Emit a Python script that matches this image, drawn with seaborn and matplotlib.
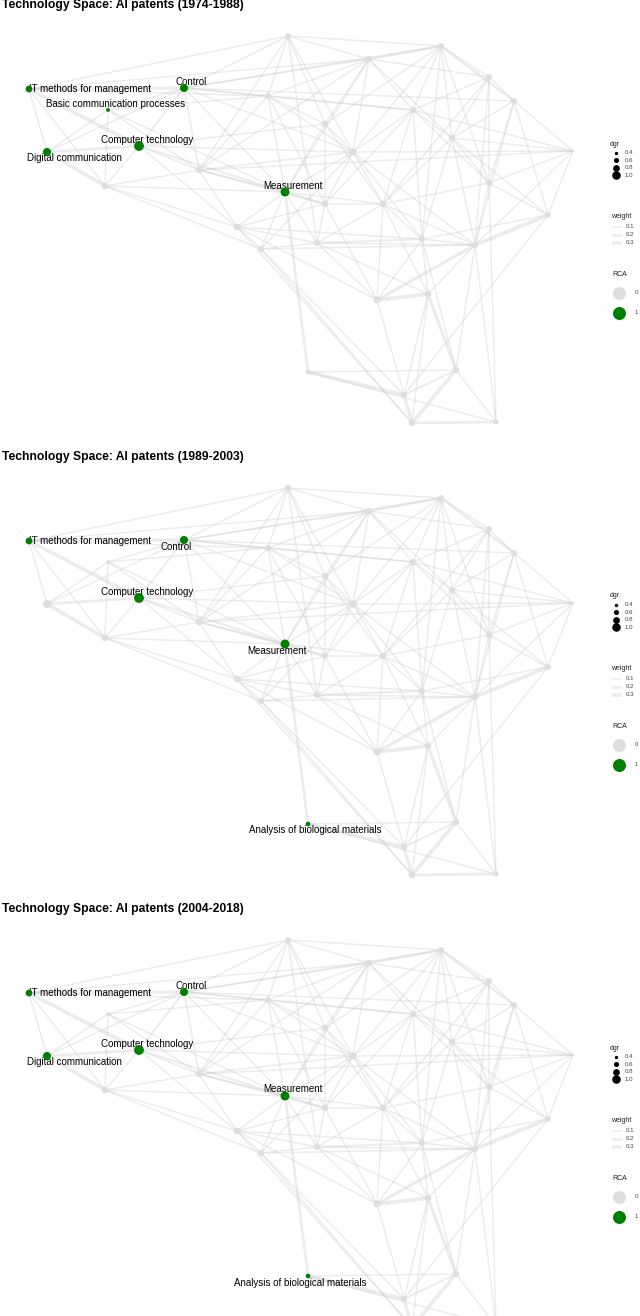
import numpy as np
import pandas as pd
import matplotlib
matplotlib.use("Agg")
import matplotlib.pyplot as plt
import seaborn as sns
from matplotlib.collections import LineCollection

# ---------------- data ----------------
titles = ["Technology Space: AI patents (1974-1988)",
          "Technology Space: AI patents (1989-2003)",
          "Technology Space: AI patents (2004-2018)"]

node_names = ["IT methods for management", "Control", "Basic communication processes",
              "Computer technology", "Digital communication", "Measurement",
              "n06", "n07", "n08", "n09", "n10", "n11", "n12", "n13", "n14", "n15",
              "n16", "n17", "n18", "n19", "n20", "n21", "n22", "n23", "n24", "n25",
              "n26", "n27", "n28", "Analysis of biological materials", "n30", "n31",
              "n32", "n33", "n34"]
node_x = [29, 184, 108, 139, 47, 285, 288, 268, 105, 199, 369, 441, 489, 514, 413, 325,
          452, 353, 489, 325, 383, 548, 237, 261, 317, 422, 475, 377, 428, 308, 456, 404,
          412, 496, 573]
node_y = [89, 88, 110, 146, 152, 192, 36, 96, 186, 170, 59, 46, 77, 101, 110, 124,
          138, 152, 183, 204, 204, 215, 227, 249, 243, 239, 245, 300, 294, 372, 370, 395,
          423, 422, 151]
dgr = [0.8, 0.95, 0.45, 1.15, 0.95, 1.05, 0.7, 0.75, 0.75, 0.8, 0.75, 0.7, 0.7, 0.7, 0.75, 0.75,
       0.7, 0.85, 0.75, 0.7, 0.75, 0.65, 0.8, 0.7, 0.7, 0.75, 0.75, 0.8, 0.75, 0.55, 0.75, 0.7,
       0.75, 0.6, 0.3]

rca_1974 = [1, 1, 1, 1, 1, 1] + [0] * 29
rca_1989 = [1, 1, 0, 1, 0, 1] + [0] * 23 + [1] + [0] * 5
rca_2004 = [1, 1, 0, 1, 1, 1] + [0] * 23 + [1] + [0] * 5
rca_periods = [rca_1974, rca_1989, rca_2004]

edge_src = [0, 0, 0, 0, 0, 0, 1, 1, 1, 1, 1, 1, 1, 1, 1, 2, 2, 2, 2, 3, 3, 3, 3, 4,
            5, 5, 5, 5, 5, 5, 5, 5, 5, 5, 6, 6, 6, 6, 6, 7, 7, 7, 7, 7, 8, 8, 8,
            9, 9, 9, 10, 10, 10, 10, 10, 11, 11, 11, 11, 11, 11, 12, 12, 12, 12,
            13, 13, 13, 13, 14, 14, 14, 14, 14, 14, 15, 15, 15, 16, 16, 16, 16,
            17, 17, 17, 17, 18, 18, 18, 18, 18, 19, 19, 19, 19, 20, 20, 20, 20,
            21, 21, 21, 21, 22, 22, 22, 22, 23, 23, 23, 23, 24, 24, 24, 25, 25, 25, 25,
            26, 26, 26, 26, 27, 27, 28, 28, 28, 29, 29, 29, 30, 30, 30, 31, 32,
            6, 6, 1, 1, 1, 9, 7, 10, 10, 15, 3, 3, 2, 8, 12, 12, 16, 16, 17, 17,
            13, 14, 20, 22, 24, 11, 26, 0, 3, 9]
edge_dst = [1, 3, 4, 8, 6, 7, 3, 6, 7, 9, 10, 14, 5, 2, 4, 4, 8, 9, 5, 4, 8, 9, 5, 8,
            7, 9, 15, 17, 19, 20, 22, 23, 24, 29, 7, 10, 11, 15, 17, 10, 14, 15, 17, 9, 9, 5, 22,
            22, 34, 17, 11, 12, 14, 15, 16, 12, 13, 14, 16, 17, 18, 13, 16, 18, 14,
            16, 21, 34, 18, 16, 17, 18, 20, 19, 34, 17, 19, 20, 18, 20, 21, 34,
            19, 20, 34, 25, 21, 20, 26, 33, 34, 20, 24, 22, 27, 25, 27, 28, 24,
            26, 31, 25, 34, 23, 24, 25, 32, 24, 26, 31, 32, 25, 26, 27, 26, 27, 28, 30,
            27, 28, 30, 34, 28, 31, 30, 32, 31, 30, 31, 33, 31, 32, 33, 32, 33,
            9, 24, 11, 13, 17, 10, 19, 17, 5, 11, 17, 15, 7, 23, 20, 26, 25, 26, 26, 23,
            26, 25, 26, 27, 28, 25, 33, 10, 22, 19]
edge_weight = [0.25, 0.3, 0.1, 0.1, 0.1, 0.1, 0.15, 0.1, 0.1, 0.1, 0.1, 0.1, 0.1, 0.1, 0.1,
               0.1, 0.1, 0.1, 0.1, 0.2, 0.1, 0.1, 0.15, 0.3,
               0.1, 0.15, 0.1, 0.1, 0.2, 0.1, 0.1, 0.1, 0.1, 0.2, 0.1, 0.1, 0.1, 0.1, 0.1,
               0.1, 0.1, 0.1, 0.1, 0.1, 0.1, 0.1, 0.1,
               0.1, 0.1, 0.1, 0.2, 0.1, 0.1, 0.1, 0.1, 0.1, 0.2, 0.1, 0.1, 0.1, 0.1,
               0.1, 0.1, 0.1, 0.1,
               0.1, 0.1, 0.1, 0.1, 0.1, 0.1, 0.1, 0.1, 0.1, 0.1, 0.1, 0.1, 0.1,
               0.1, 0.1, 0.1, 0.1,
               0.1, 0.1, 0.1, 0.1, 0.1, 0.1, 0.1, 0.1, 0.1, 0.1, 0.1, 0.1, 0.1,
               0.1, 0.1, 0.1, 0.1,
               0.3, 0.1, 0.1, 0.1, 0.1, 0.1, 0.1, 0.1, 0.1, 0.1, 0.1, 0.1,
               0.15, 0.1, 0.1, 0.1, 0.1, 0.1, 0.1,
               0.25, 0.1, 0.1, 0.1, 0.3, 0.1, 0.25, 0.1, 0.1, 0.1, 0.3, 0.1,
               0.15, 0.3, 0.1, 0.25, 0.2,
               0.1, 0.1, 0.1, 0.1, 0.1, 0.1, 0.1, 0.1, 0.1, 0.1, 0.1, 0.1, 0.1, 0.1,
               0.1, 0.1, 0.1, 0.1, 0.1, 0.1, 0.1, 0.1, 0.1, 0.1, 0.1, 0.1, 0.1, 0.1,
               0.1, 0.1]

legend_dgr = [0.4, 0.6, 0.8, 1.0]
legend_weight = [0.1, 0.2, 0.3]
legend_rca = [0, 1]

# label nudges (px) per period, keyed by node index
label_nudge = [
    {0: (61, 0), 1: (7, -6), 2: (8, -6), 3: (8, -6), 4: (27, 6), 5: (8, -6)},
    {0: (61, 0), 1: (-8, 7), 3: (8, -6), 5: (-8, 7), 29: (7, 6)},
    {0: (61, 0), 1: (7, -6), 3: (8, -6), 4: (27, 6), 5: (8, -7), 29: (-8, 7)},
]

# ---------------- style ----------------
sns.set_theme(style="white")
plt.rcParams["font.family"] = ["Liberation Sans", "DejaVu Sans"]

W, H, PANEL_H = 640, 1316, 452
GREEN = "#008000"
GREY_NODE = "#dedede"
EDGE_COL = "#cacaca"
EDGE_ALPHA = 0.34


def diam_px(v):
    return 8.5 * v


def area_pt(v):
    return (diam_px(np.asarray(v)) * 0.72) ** 2


def edge_lw(w):
    return (0.4 + w * 11) * 0.72


fig = plt.figure(figsize=(W / 100, H / 100), dpi=100)

for k in range(3):
    top = k * PANEL_H
    ax = fig.add_axes([0, (H - top - PANEL_H) / H, 1, PANEL_H / H])

    # edges
    segs = [[(node_x[s], node_y[s]), (node_x[d], node_y[d])] for s, d in zip(edge_src, edge_dst)]
    lc = LineCollection(segs, colors=EDGE_COL, alpha=EDGE_ALPHA,
                        linewidths=[edge_lw(w) for w in edge_weight],
                        capstyle="round", zorder=1)
    ax.add_collection(lc)

    df = pd.DataFrame({"name": node_names, "x": node_x, "y": node_y,
                       "dgr": dgr, "RCA": rca_periods[k]})
    df["area"] = area_pt(df["dgr"])
    df = df.sort_values("RCA", kind="stable")
    amin, amax = df["area"].min(), df["area"].max()
    sns.scatterplot(data=df, x="x", y="y", hue="RCA", palette={0: GREY_NODE, 1: GREEN},
                    size="area", sizes=(amin, amax), size_norm=(amin, amax),
                    legend=False, linewidth=0, ax=ax, zorder=3)

    # labels
    for idx, (dx, dy) in label_nudge[k].items():
        ax.text(node_x[idx] + dx, node_y[idx] + dy, node_names[idx],
                ha="center", va="center", fontsize=7.0, color="black", zorder=2)

    # title
    ax.text(2, 5, titles[k], ha="left", va="center", fontsize=8.7,
            fontweight="bold", color="black")

    # legend: dgr
    lx = 610
    ax.text(lx, 144, "dgr", fontsize=5.0, ha="left", va="center", color="#222222")
    for i, v in enumerate(legend_dgr):
        yy = 153 + i * 7.4
        ax.scatter([lx + 6], [yy], s=float(area_pt(v)), color="black", linewidth=0, zorder=4)
        ax.text(lx + 15, yy, f"{v:.1f}", fontsize=4.4, ha="left", va="center", color="#444444")
    # legend: weight
    ax.text(lx + 1, 216, "weight", fontsize=5.0, ha="left", va="center", color="#222222")
    for i, w in enumerate(legend_weight):
        yy = 227 + i * 8
        ax.plot([lx + 2, lx + 12], [yy, yy], color=EDGE_COL, alpha=EDGE_ALPHA,
                linewidth=edge_lw(w), solid_capstyle="butt")
        ax.text(lx + 16, yy, f"{w:.1f}", fontsize=4.4, ha="left", va="center", color="#444444")
    # legend: RCA
    ax.text(lx + 2, 275, "RCA", fontsize=5.0, ha="left", va="center", color="#222222")
    for i, r in enumerate(legend_rca):
        yy = 293 + i * 20
        ax.scatter([lx + 9], [yy], s=(13 * 0.72) ** 2, color=GREEN if r else GREY_NODE,
                   linewidth=0, zorder=4)
        ax.text(lx + 25, yy, str(r), fontsize=4.4, ha="left", va="center", color="#444444")

    ax.set_xlim(0, W)
    ax.set_ylim(PANEL_H, 0)
    ax.axis("off")

fig.savefig("out.png", dpi=100)
